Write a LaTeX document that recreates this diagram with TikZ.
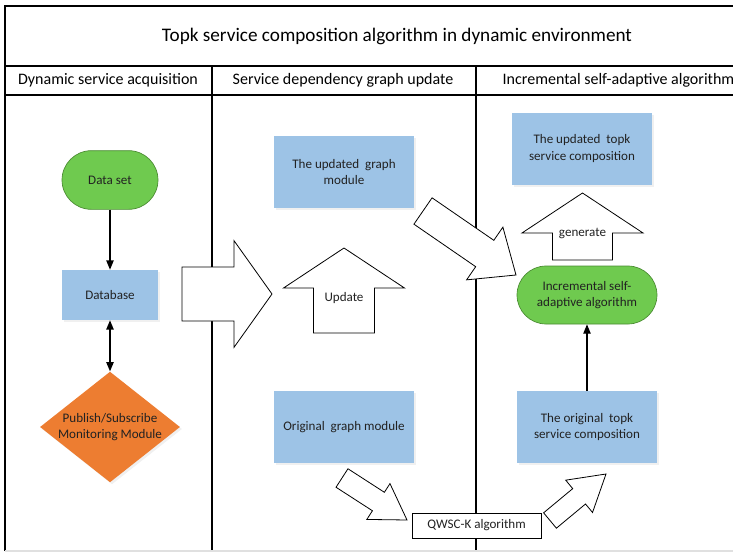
\documentclass[tikz,border=0pt]{standalone}
\usepackage{fontspec}
\setmainfont{Carlito}
\usetikzlibrary{calc,arrows.meta,shapes.geometric,shadows}
\definecolor{boxblue}{HTML}{9DC3E6}
\definecolor{termgreen}{HTML}{6FCA4F}
\definecolor{termgreenline}{HTML}{4A8A32}
\definecolor{decorange}{HTML}{ED7D31}
\definecolor{txt}{HTML}{222222}
\newcommand{\blockarrow}[5]{%
  % #1 tail centre, #2 tip, #3 fraction of head base, #4 body half width, #5 head half width
  \coordinate (ba-h) at ($(#1)!#3!(#2)$);
  \draw[blockarr] ($(#1)!#4!90:(#2)$) -- ($(ba-h)!#4!90:(#2)$) -- ($(ba-h)!#5!90:(#2)$)
     -- (#2) -- ($(ba-h)!#5!-90:(#2)$) -- ($(ba-h)!#4!-90:(#2)$) -- ($(#1)!#4!-90:(#2)$) -- cycle;}
\tikzset{
  frame/.style={line width=0.8pt, black},
  bluebox/.style={fill=boxblue, minimum width=105pt, minimum height=54pt, align=center, inner sep=2pt, text=txt, font=\fontsize{9.8}{12.2}\selectfont,
     drop shadow={opacity=0.12, shadow xshift=1.5pt, shadow yshift=-1.5pt}},
  terminal/.style={fill=termgreen, draw=termgreenline, line width=0.5pt, align=center, text=txt, font=\fontsize{9.8}{12.2}\selectfont},
  blockarr/.style={draw=black, fill=white, line width=0.6pt, line join=miter},
  conn/.style={line width=0.9pt, -{Triangle[length=7pt,width=5.5pt]}},
  lbl/.style={text=txt, font=\fontsize{9.8}{12.2}\selectfont},
  head/.style={text=black, font=\fontsize{12}{14}\selectfont},
}
\begin{document}
\begin{tikzpicture}[x=0.75pt,y=-0.75pt]
\useasboundingbox (0,0) rectangle (733,553);
% frame
\draw[frame] (5,551) -- (5,6) -- (733,6);
\draw[frame] (5,66) -- (733,66);
\draw[frame] (5,95) -- (733,95);
\draw[frame] (212,66) -- (212,551);
\draw[frame] (476,66) -- (476,551);
\draw[line width=0.8pt, black!12] (5,551) -- (733,551);
% titles
\node[text=black, font=\fontsize{14.4}{17}\selectfont] (title) at (397,36) {Topk service composition algorithm in dynamic environment};
\node[head] (h1) at (108,80) {Dynamic service acquisition};
\node[head] (h2) at (343,80) {Service dependency graph update};
\node[head, anchor=west] (h3) at (498,80) {Incremental self-adaptive algorithm};
% lane 1
\node[terminal, minimum width=72pt, minimum height=44pt, rounded corners=22pt] (data) at (110,180) {Data set};
\node[bluebox, minimum width=72pt, minimum height=37.5pt] (db) at (110,295) {Database};
\node[diamond, fill=decorange, minimum width=105pt, minimum height=83pt, aspect=1.265, inner sep=0pt, align=center, text=txt, font=\fontsize{9.8}{12.2}\selectfont,
      drop shadow={opacity=0.12, shadow xshift=1.5pt, shadow yshift=-1.5pt}] (pub) at (110,427) {Publish/Subscribe\\Monitoring Module};
\draw[conn] (data) -- (db);
\draw[line width=1.1pt, {Triangle[length=7pt,width=5.5pt]}-{Triangle[length=7pt,width=5.5pt]}] (db) -- (pub);
% lane 2
\node[bluebox] (upg) at (344,172) {The updated\ \ graph\\module};
\node[bluebox] (org) at (344,427) {Original\ \ graph module};
\coordinate (bigT) at (182,294);
\coordinate (bigH) at (272,294);
\blockarrow{bigT}{bigH}{0.578}{20.25pt}{40pt}
\coordinate (upT) at (344,333);
\coordinate (upH) at (344,248);
\blockarrow{upT}{upH}{0.529}{22.9pt}{45.4pt}
\node[lbl] (updtxt) at (344,298) {Update};
\coordinate (d1T) at (423,211);
\coordinate (d1H) at (516,275);
\blockarrow{d1T}{d1H}{0.664}{12pt}{24pt}
\coordinate (d2T) at (342,478);
\coordinate (d2H) at (407,520);
\blockarrow{d2T}{d2H}{0.56}{8.25pt}{16pt}
\node[draw=black, fill=white, line width=0.6pt, minimum width=96.75pt, minimum height=18.75pt, lbl] (qwsc) at (476.5,525.5) {QWSC-K algorithm};
\coordinate (d3T) at (550,520.5);
\coordinate (d3H) at (606,474);
\blockarrow{d3T}{d3H}{0.52}{7.5pt}{15.75pt}
% lane 3
\node[bluebox] (utopk) at (582,148.5) {The updated\ \ topk\\service composition};
\node[terminal, minimum width=105pt, minimum height=43.5pt, rounded corners=21.75pt] (inc) at (587,295) {Incremental self-\\adaptive algorithm};
\node[bluebox] (otopk) at (587,427) {The original\ \ topk\\service composition};
\coordinate (gT) at (582.5,260);
\coordinate (gH) at (582.5,193);
\blockarrow{gT}{gH}{0.403}{22.5pt}{45.4pt}
\node[lbl] (gentxt) at (582.5,233) {generate};
\draw[conn] (otopk) -- (inc);
\end{tikzpicture}
\end{document}
